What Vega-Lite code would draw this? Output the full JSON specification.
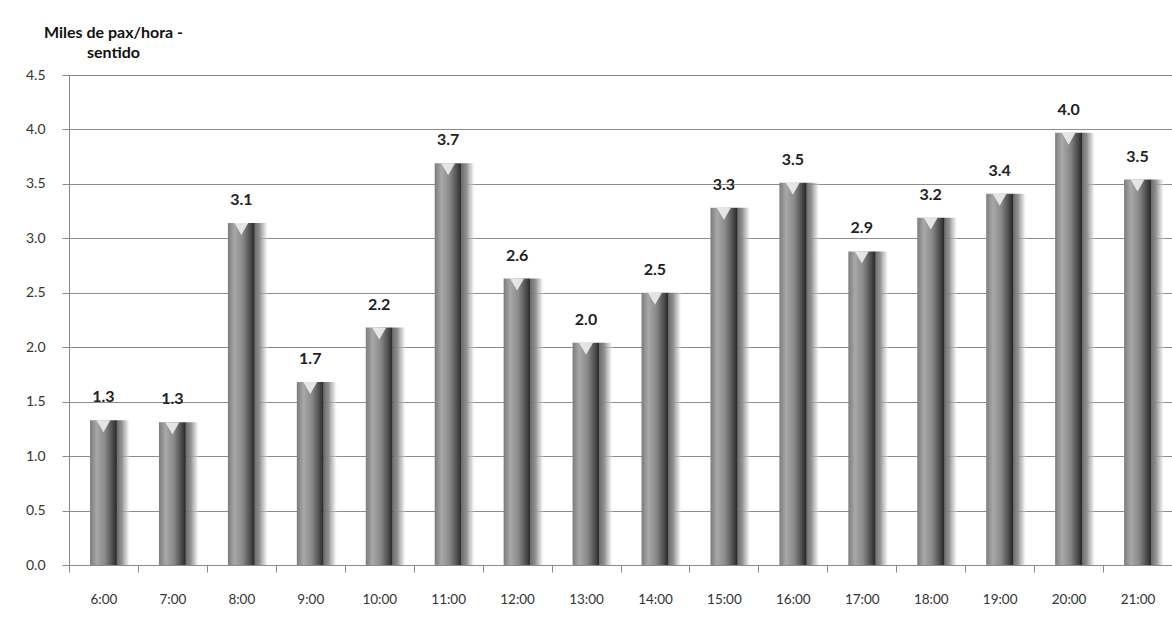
{
  "$schema": "https://vega.github.io/schema/vega-lite/v6.json",
  "autosize": "none",
  "width": 1103,
  "height": 490,
  "padding": {"left": 69, "top": 75, "right": 0, "bottom": 78},
  "background": "white",
  "data": {
    "values": [
      {"hora": "6:00", "valor": 1.33},
      {"hora": "7:00", "valor": 1.31},
      {"hora": "8:00", "valor": 3.14},
      {"hora": "9:00", "valor": 1.68},
      {"hora": "10:00", "valor": 2.18},
      {"hora": "11:00", "valor": 3.69},
      {"hora": "12:00", "valor": 2.63},
      {"hora": "13:00", "valor": 2.04},
      {"hora": "14:00", "valor": 2.5},
      {"hora": "15:00", "valor": 3.28},
      {"hora": "16:00", "valor": 3.51},
      {"hora": "17:00", "valor": 2.88},
      {"hora": "18:00", "valor": 3.19},
      {"hora": "19:00", "valor": 3.41},
      {"hora": "20:00", "valor": 3.97},
      {"hora": "21:00", "valor": 3.54}
    ]
  },
  "encoding": {
    "x": {
      "field": "hora", "type": "nominal", "sort": null,
      "scale": {"paddingInner": 0, "paddingOuter": 0},
      "axis": {
        "title": null, "labelAngle": 0, "tickBand": "extent",
        "domainColor": "#8a8a8a", "tickColor": "#8a8a8a", "tickSize": 7,
        "labelPadding": 20, "labelFont": "Lato", "labelFontSize": 13.5,
        "labelColor": "#333333", "grid": false
      }
    },
    "y": {
      "field": "valor", "type": "quantitative",
      "scale": {"domain": [0, 4.5], "nice": false},
      "axis": {
        "values": [0, 0.5, 1, 1.5, 2, 2.5, 3, 3.5, 4, 4.5],
        "format": ".1f",
        "title": ["Miles de pax/hora -", "sentido"],
        "titleAngle": 0, "titleAlign": "center", "titleBaseline": "alphabetic",
        "titleX": 44, "titleY": -38, "titleLineHeight": 20,
        "titleFont": "Lato", "titleFontSize": 16, "titleFontWeight": "bold", "titleColor": "#111111",
        "domainColor": "#8a8a8a", "tickColor": "#8a8a8a", "tickSize": 7,
        "labelPadding": 17, "labelFont": "Lato", "labelFontSize": 14, "labelColor": "#333333",
        "grid": true, "gridColor": "#8c8c8c", "gridWidth": 1
      }
    }
  },
  "layer": [
    {
      "mark": {
        "type": "bar", "width": {"band": 0.79},
        "color": {
          "gradient": "linear", "x1": 0, "x2": 1, "y1": 0, "y2": 0,
          "stops": [
            {"offset": 0, "color": "rgba(255,255,255,0)"},
            {"offset": 0.74, "color": "rgba(255,255,255,0)"},
            {"offset": 0.75, "color": "rgba(110,110,110,1)"},
            {"offset": 0.84, "color": "rgba(140,140,140,0.95)"},
            {"offset": 0.93, "color": "rgba(190,190,190,0.6)"},
            {"offset": 1, "color": "rgba(255,255,255,0)"}
          ]
        }
      }
    },
    {
      "mark": {
        "type": "bar", "width": {"band": 0.39},
        "color": {
          "gradient": "linear", "x1": 0, "x2": 1, "y1": 0, "y2": 0,
          "stops": [
            {"offset": 0, "color": "#7c7c7c"},
            {"offset": 0.25, "color": "#a8a8a8"},
            {"offset": 0.55, "color": "#8a8a8a"},
            {"offset": 0.85, "color": "#4a4a4a"},
            {"offset": 1, "color": "#262626"}
          ]
        }
      }
    },
    {
      "mark": {"type": "point", "shape": "triangle-down", "filled": true, "color": "#eeeeee", "opacity": 0.9, "size": 190, "yOffset": 6}
    },
    {
      "mark": {"type": "text", "baseline": "middle", "dy": -23, "font": "Lato", "fontSize": 16, "fontWeight": "bold", "color": "#222222"},
      "encoding": {"text": {"field": "valor", "type": "quantitative", "format": ".1f"}}
    }
  ],
  "config": {"view": {"stroke": null}}
}
